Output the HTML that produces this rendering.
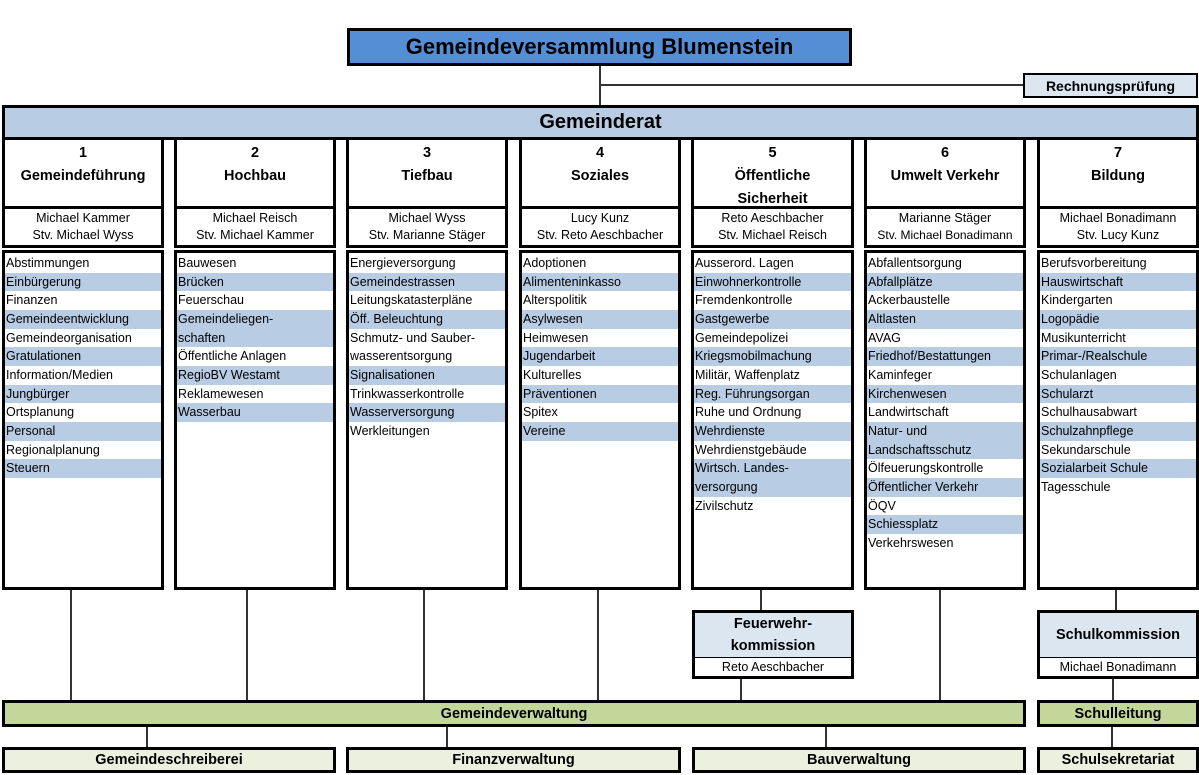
<!DOCTYPE html>
<html><head><meta charset="utf-8"><style>
*{box-sizing:border-box;margin:0;padding:0}
body{width:1199px;height:775px;background:#fff;position:relative;overflow:hidden;font-family:"Liberation Sans",sans-serif;color:#000}
.a{position:absolute}
.b{position:absolute;border:3px solid #000}
.ln{position:absolute;background:#333}
.hd{text-align:center;font-weight:bold;font-size:14.5px;line-height:23px;padding-top:2px;background:#fff}
.nm{text-align:center;font-size:12.5px;line-height:17px;background:#fff;padding-top:1px}
.ls{background:#fff;padding-top:1px;font-size:12.5px}
.ls div{height:18.67px;line-height:18.67px;padding-left:1px;white-space:nowrap}
.ls .h{background:#b8cce4}
.c{display:flex;align-items:center;justify-content:center;font-weight:bold}
</style></head><body>
<!-- connectors -->
<div class="ln" style="left:599px;top:64px;width:1.5px;height:44px"></div>
<div class="ln" style="left:600px;top:84px;width:425px;height:1.5px"></div>
<div class="ln" style="left:70px;top:588px;width:1.5px;height:114px"></div>
<div class="ln" style="left:246px;top:588px;width:1.5px;height:114px"></div>
<div class="ln" style="left:423px;top:588px;width:1.5px;height:114px"></div>
<div class="ln" style="left:597px;top:588px;width:1.5px;height:114px"></div>
<div class="ln" style="left:760px;top:588px;width:1.5px;height:24px"></div>
<div class="ln" style="left:740px;top:676px;width:1.5px;height:26px"></div>
<div class="ln" style="left:939px;top:588px;width:1.5px;height:114px"></div>
<div class="ln" style="left:1115px;top:588px;width:1.5px;height:24px"></div>
<div class="ln" style="left:1112px;top:676px;width:1.5px;height:26px"></div>
<div class="ln" style="left:146px;top:724px;width:1.5px;height:24px"></div>
<div class="ln" style="left:446px;top:724px;width:1.5px;height:24px"></div>
<div class="ln" style="left:825px;top:724px;width:1.5px;height:24px"></div>
<div class="ln" style="left:1111px;top:724px;width:1.5px;height:24px"></div>

<div class="b c" style="left:347px;top:28px;width:505px;height:38px;background:#558ed5;font-size:22px">Gemeindeversammlung Blumenstein</div>
<div class="b c" style="left:1023px;top:73px;width:175px;height:25px;background:#dce6f1;font-size:14px;border-width:2px">Rechnungsprüfung</div>
<div class="b c" style="left:2px;top:105px;width:1197px;height:35px;background:#b8cce4;font-size:20px">Gemeinderat</div>

<!-- col1 -->
<div class="b hd" style="left:2px;top:137px;width:162px;height:72px">1<br>Gemeindeführung</div>
<div class="b nm" style="left:2px;top:206px;width:162px;height:42px">Michael Kammer<br>Stv. Michael Wyss</div>
<div class="b ls" style="left:2px;top:250px;width:162px;height:340px">
<div>Abstimmungen</div><div class="h">Einbürgerung</div><div>Finanzen</div><div class="h">Gemeindeentwicklung</div><div>Gemeindeorganisation</div><div class="h">Gratulationen</div><div>Information/Medien</div><div class="h">Jungbürger</div><div>Ortsplanung</div><div class="h">Personal</div><div>Regionalplanung</div><div class="h">Steuern</div></div>
<!-- col2 -->
<div class="b hd" style="left:174px;top:137px;width:162px;height:72px">2<br>Hochbau</div>
<div class="b nm" style="left:174px;top:206px;width:162px;height:42px">Michael Reisch<br>Stv. Michael Kammer</div>
<div class="b ls" style="left:174px;top:250px;width:162px;height:340px">
<div>Bauwesen</div><div class="h">Brücken</div><div>Feuerschau</div><div class="h">Gemeindeliegen-</div><div class="h">schaften</div><div>Öffentliche Anlagen</div><div class="h">RegioBV Westamt</div><div>Reklamewesen</div><div class="h">Wasserbau</div></div>
<!-- col3 -->
<div class="b hd" style="left:346px;top:137px;width:162px;height:72px">3<br>Tiefbau</div>
<div class="b nm" style="left:346px;top:206px;width:162px;height:42px">Michael Wyss<br>Stv. Marianne Stäger</div>
<div class="b ls" style="left:346px;top:250px;width:162px;height:340px">
<div>Energieversorgung</div><div class="h">Gemeindestrassen</div><div>Leitungskatasterpläne</div><div class="h">Öff. Beleuchtung</div><div>Schmutz- und Sauber-</div><div>wasserentsorgung</div><div class="h">Signalisationen</div><div>Trinkwasserkontrolle</div><div class="h">Wasserversorgung</div><div>Werkleitungen</div></div>
<!-- col4 -->
<div class="b hd" style="left:519px;top:137px;width:162px;height:72px">4<br>Soziales</div>
<div class="b nm" style="left:519px;top:206px;width:162px;height:42px">Lucy Kunz<br>Stv. Reto Aeschbacher</div>
<div class="b ls" style="left:519px;top:250px;width:162px;height:340px">
<div>Adoptionen</div><div class="h">Alimenteninkasso</div><div>Alterspolitik</div><div class="h">Asylwesen</div><div>Heimwesen</div><div class="h">Jugendarbeit</div><div>Kulturelles</div><div class="h">Präventionen</div><div>Spitex</div><div class="h">Vereine</div></div>
<!-- col5 -->
<div class="b hd" style="left:691px;top:137px;width:163px;height:72px">5<br>Öffentliche<br>Sicherheit</div>
<div class="b nm" style="left:691px;top:206px;width:163px;height:42px">Reto Aeschbacher<br>Stv. Michael Reisch</div>
<div class="b ls" style="left:691px;top:250px;width:163px;height:340px">
<div>Ausserord. Lagen</div><div class="h">Einwohnerkontrolle</div><div>Fremdenkontrolle</div><div class="h">Gastgewerbe</div><div>Gemeindepolizei</div><div class="h">Kriegsmobilmachung</div><div>Militär, Waffenplatz</div><div class="h">Reg. Führungsorgan</div><div>Ruhe und Ordnung</div><div class="h">Wehrdienste</div><div>Wehrdienstgebäude</div><div class="h">Wirtsch. Landes-</div><div class="h">versorgung</div><div>Zivilschutz</div></div>
<!-- col6 -->
<div class="b hd" style="left:864px;top:137px;width:162px;height:72px">6<br>Umwelt Verkehr</div>
<div class="b nm" style="left:864px;top:206px;width:162px;height:42px">Marianne Stäger<br><span style="font-size:12px">Stv. Michael Bonadimann</span></div>
<div class="b ls" style="left:864px;top:250px;width:162px;height:340px">
<div>Abfallentsorgung</div><div class="h">Abfallplätze</div><div>Ackerbaustelle</div><div class="h">Altlasten</div><div>AVAG</div><div class="h">Friedhof/Bestattungen</div><div>Kaminfeger</div><div class="h">Kirchenwesen</div><div>Landwirtschaft</div><div class="h">Natur- und</div><div class="h">Landschaftsschutz</div><div>Ölfeuerungskontrolle</div><div class="h">Öffentlicher Verkehr</div><div>ÖQV</div><div class="h">Schiessplatz</div><div>Verkehrswesen</div></div>
<!-- col7 -->
<div class="b hd" style="left:1037px;top:137px;width:162px;height:72px">7<br>Bildung</div>
<div class="b nm" style="left:1037px;top:206px;width:162px;height:42px">Michael Bonadimann<br>Stv. Lucy Kunz</div>
<div class="b ls" style="left:1037px;top:250px;width:162px;height:340px">
<div>Berufsvorbereitung</div><div class="h">Hauswirtschaft</div><div>Kindergarten</div><div class="h">Logopädie</div><div>Musikunterricht</div><div class="h">Primar-/Realschule</div><div>Schulanlagen</div><div class="h">Schularzt</div><div>Schulhausabwart</div><div class="h">Schulzahnpflege</div><div>Sekundarschule</div><div class="h">Sozialarbeit Schule</div><div>Tagesschule</div></div>

<!-- commissions -->
<div class="b" style="left:692px;top:610px;width:162px;height:69px;background:#fff">
<div class="c" style="height:45px;background:#dce6f1;font-size:14.5px;line-height:22px;text-align:center;border-bottom:1.5px solid #000">Feuerwehr-<br>kommission</div>
<div style="text-align:center;font-size:12.5px;line-height:18px">Reto Aeschbacher</div></div>
<div class="b" style="left:1037px;top:610px;width:162px;height:69px;background:#fff">
<div class="c" style="height:45px;background:#dce6f1;font-size:14.5px;border-bottom:1.5px solid #000">Schulkommission</div>
<div style="text-align:center;font-size:12.5px;line-height:18px">Michael Bonadimann</div></div>

<!-- admin -->
<div class="b c" style="left:2px;top:700px;width:1024px;height:27px;background:#c4d79b;font-size:14.5px">Gemeindeverwaltung</div>
<div class="b c" style="left:1037px;top:700px;width:162px;height:27px;background:#c4d79b;font-size:14.5px">Schulleitung</div>
<div class="b c" style="left:2px;top:747px;width:334px;height:26px;background:#ebf1de;font-size:14.5px">Gemeindeschreiberei</div>
<div class="b c" style="left:346px;top:747px;width:335px;height:26px;background:#ebf1de;font-size:14.5px">Finanzverwaltung</div>
<div class="b c" style="left:692px;top:747px;width:334px;height:26px;background:#ebf1de;font-size:14.5px">Bauverwaltung</div>
<div class="b c" style="left:1037px;top:747px;width:162px;height:26px;background:#ebf1de;font-size:14.5px">Schulsekretariat</div>
</body></html>
